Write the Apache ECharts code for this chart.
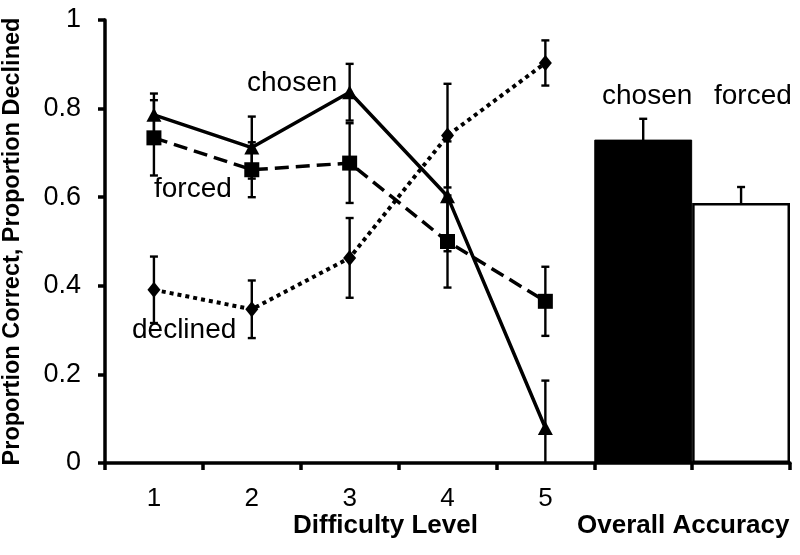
<!DOCTYPE html>
<html><head><meta charset="utf-8">
<script src="https://cdn.jsdelivr.net/npm/echarts@6/dist/echarts.min.js"></script>
<style>html,body{margin:0;padding:0;background:#fff}#c{width:800px;height:555px}</style>
</head><body><div id="c"></div>
<script>
// ---- data ----
const categories = ['1', '2', '3', '4', '5', 'chosen', 'forced'];
const tickLabels = ['1', '2', '3', '4', '5', '', ''];
const yTicks = [0, 0.2, 0.4, 0.6, 0.8, 1];
const chosen = [0.786, 0.712, 0.837, 0.602, 0.079];
const chosenErr = [0.048, 0.07, 0.064, 0.124, 0.107];
const forced = [0.734, 0.662, 0.677, 0.500, 0.365];
const forcedErr = [0.085, 0.062, 0.09, 0.104, 0.078];
const declined = [0.391, 0.347, 0.463, 0.739, 0.903];
const declinedErr = [0.075, 0.065, 0.09, 0.117, 0.051];
const overall = [0.730, 0.587];
const overallErr = [0.047, 0.036];

const FONT = 'Liberation Sans, Arial, sans-serif';
const chart = echarts.init(document.getElementById('c'), null, {renderer: 'canvas'});

function errData(vals, errs, offset) {
  return vals.map((v, i) => [i + offset, v - errs[i], v + errs[i]]);
}
function errSeries(data) {
  return {
    type: 'custom',
    z: 1,
    silent: true,
    data: data,
    renderItem: function (params, api) {
      const x = api.value(0);
      const lo = Math.max(0, api.value(1));
      const hi = api.value(2);
      const p1 = api.coord([x, lo]);
      const p2 = api.coord([x, hi]);
      const w = 4;
      const st = {stroke: '#000', lineWidth: 2.4};
      const children = [
        {type: 'line', shape: {x1: p1[0], y1: p1[1], x2: p2[0], y2: p2[1]}, style: st},
        {type: 'line', shape: {x1: p2[0] - w, y1: p2[1], x2: p2[0] + w, y2: p2[1]}, style: st}
      ];
      if (api.value(1) > 0) {
        children.push({type: 'line', shape: {x1: p1[0] - w, y1: p1[1], x2: p1[0] + w, y2: p1[1]}, style: st});
      }
      return {type: 'group', children: children};
    }
  };
}

const barData = categories.map((c, i) => {
  if (i < 5) return null;
  const k = i - 5;
  return {
    value: overall[k],
    itemStyle: k === 0
      ? {color: '#000', borderColor: '#000', borderWidth: 1}
      : {color: '#fff', borderColor: '#000', borderWidth: 2.5}
  };
});

const option = {
  animation: false,
  backgroundColor: '#fff',
  grid: {left: 105, right: 10, top: 20, bottom: 92, containLabel: false, outerBoundsMode: 'none'},
  xAxis: {
    type: 'category',
    data: categories,
    boundaryGap: true,
    axisLine: {lineStyle: {color: '#000', width: 3.5}},
    axisTick: {show: true, alignWithLabel: false, length: 7, lineStyle: {color: '#000', width: 3.5}},
    axisLabel: {
      formatter: (v, i) => tickLabels[i],
      color: '#000', fontFamily: FONT, fontSize: 26, margin: 23, interval: 0
    },
    splitLine: {show: false}
  },
  yAxis: {
    type: 'value',
    min: yTicks[0], max: yTicks[yTicks.length - 1], interval: 0.2,
    name: 'Proportion Correct, Proportion Declined',
    nameLocation: 'middle', nameGap: 80,
    nameTextStyle: {color: '#000', fontFamily: FONT, fontWeight: 'bold', fontSize: 23.5},
    axisLine: {show: true, lineStyle: {color: '#000', width: 3.5}},
    axisTick: {show: true, length: 7, lineStyle: {color: '#000', width: 3.5}},
    axisLabel: {color: '#000', fontFamily: FONT, fontSize: 27, margin: 24},
    splitLine: {show: false}
  },
  series: [
    {
      type: 'bar', data: barData, barWidth: '100%', barGap: '-100%', z: 2, silent: true
    },
    errSeries(errData(overall, overallErr, 5)),
    errSeries(errData(chosen, chosenErr, 0)),
    errSeries(errData(forced, forcedErr, 0)),
    errSeries(errData(declined, declinedErr, 0)),
    {
      type: 'line', data: chosen, z: 5, symbol: 'triangle', symbolSize: [15, 14],
      itemStyle: {color: '#000'}, lineStyle: {color: '#000', width: 3.5, type: 'solid'}
    },
    {
      type: 'line', data: forced, z: 5, symbol: 'rect', symbolSize: 15,
      itemStyle: {color: '#000'}, lineStyle: {color: '#000', width: 3.5, type: [14, 7]}
    },
    {
      type: 'line', data: declined, z: 5, symbol: 'diamond', symbolSize: [13, 16],
      itemStyle: {color: '#000'}, lineStyle: {color: '#000', width: 4, type: [4, 4]}
    }
  ],
  graphic: [
    {type: 'text', left: 247, top: 69, style: {text: 'chosen', font: '28px ' + FONT, fill: '#000'}},
    {type: 'text', left: 154, top: 175, style: {text: 'forced', font: '28px ' + FONT, fill: '#000'}},
    {type: 'text', left: 132, top: 316, style: {text: 'declined', font: '28px ' + FONT, fill: '#000'}},
    {type: 'text', left: 602, top: 82, style: {text: 'chosen', font: '28px ' + FONT, fill: '#000'}},
    {type: 'text', left: 714, top: 82, style: {text: 'forced', font: '28px ' + FONT, fill: '#000'}},
    {type: 'text', left: 293, top: 513, style: {text: 'Difficulty Level', font: 'bold 26px ' + FONT, fill: '#000'}},
    {type: 'text', left: 577, top: 513, style: {text: 'Overall Accuracy', font: 'bold 26px ' + FONT, fill: '#000'}}
  ]
};
chart.setOption(option);
</script>
</body></html>
